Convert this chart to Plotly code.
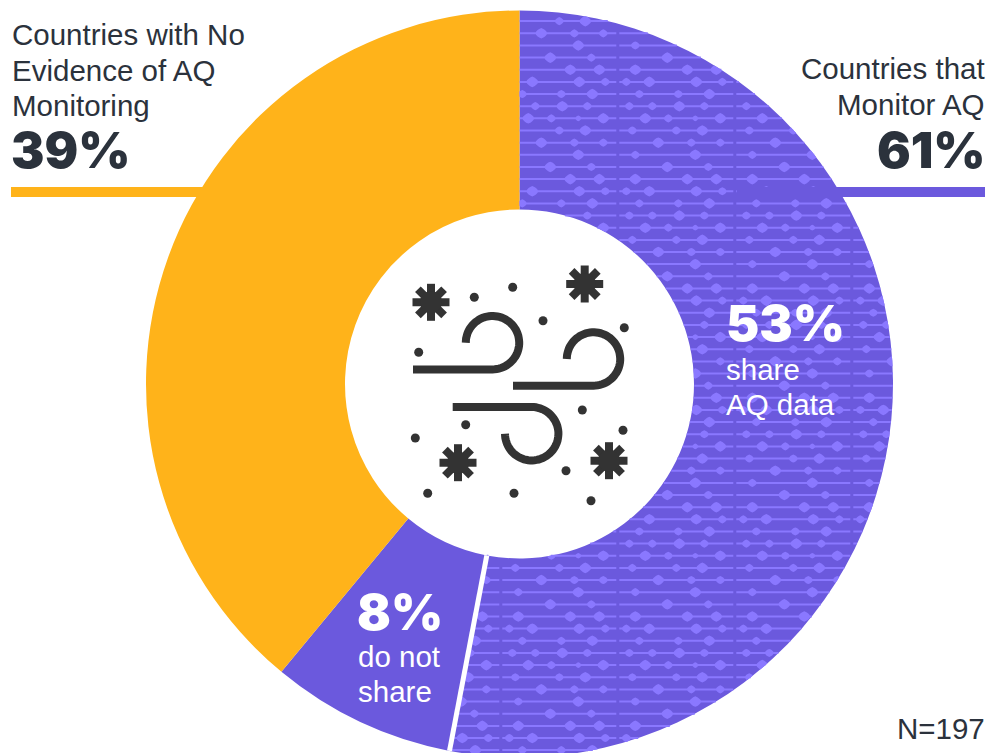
import numpy as np
import plotly.graph_objects as go

# Survey shares, clockwise from twelve o'clock
slice_labels = ["share AQ data", "do not share", "No evidence of AQ monitoring"]
slice_values = [53, 8, 39]
monitor_total = slice_values[0] + slice_values[1]
sample_size = 197

PURPLE = "#6B59DD"
TEXTURE = "#8A78FF"
YELLOW = "#FFB31A"
INK = "#2B323C"
ICON = "#333333"
BODY_FONT = "Liberation Sans"
BIG_FONT = "Inter"

WIDTH, HEIGHT = 987, 768
CX, CY, R_OUT, R_IN = 519.5, 384.0, 373.5, 174.5
END_ANGLE = np.deg2rad(360 * slice_values[0] / sum(slice_values))

# Repeating rows of the woven texture: bead (offset in tile, half width)
L, M, S = 6.2, 4.8, 3.4
TILE_W, ROW_H, LINE_H = 117.0, 12.15, 1.0
TILE_X0, ROW_Y0 = 619.3, 33.3
BEAD_ROUNDNESS = 1.35
tile_rows = [
    [(39, L), (72, M), (101, M)],
    [(16, M), (76, L)],
    [(48, L), (89, M)],
    [(16, L), (68, L), (97, L)],
    [(7, M), (30, L), (77, L), (103, M)],
    [(20, M), (59, M), (90, L)],
    [(10, M), (33, M), (60, L), (85, M)],
    [(26, L), (49, M), (76, S), (101, L)],
    [(13, M), (57, M), (83, L)],
]


def inside(x, y):
    dx, dy = x - CX, y - CY
    r = np.hypot(dx, dy)
    a = np.arctan2(dx, -dy) % (2 * np.pi)
    return (r <= R_OUT) & (r >= R_IN) & (a <= END_ANGLE)


def clamp(x, y):
    """Pull a point back onto the ring sector of the 53% slice."""
    dx, dy = x - CX, y - CY
    r = min(max(np.hypot(dx, dy), R_IN), R_OUT)
    a = np.arctan2(dx, -dy) % (2 * np.pi)
    if a > END_ANGLE:
        a = END_ANGLE if a < END_ANGLE + (2 * np.pi - END_ANGLE) / 2 else 0.0
    return CX + r * np.sin(a), CY - r * np.cos(a)


def poly(points):
    return "M" + "L".join(f"{x:.1f},{y:.1f}" for x, y in points) + "Z"


def bead_outline(bx, y, rad):
    """Rounded diamond, slightly wider than tall."""
    angles = np.linspace(0, 2 * np.pi, 16, endpoint=False)
    p = BEAD_ROUNDNESS
    verts = []
    for t in angles:
        c, s = np.cos(t), np.sin(t)
        k = rad / (abs(c) ** p + abs(s) ** p) ** (1 / p)
        verts.append(clamp(bx + k * c, y + 0.85 * k * s))
    return verts


def texture_path():
    parts = []
    first_col = int(np.floor((CX - 80 - TILE_X0) / TILE_W))
    last_col = int(np.ceil((CX + R_OUT - TILE_X0) / TILE_W))
    for k in range(-3, 62):
        y = ROW_Y0 + k * ROW_H
        beads = tile_rows[k % len(tile_rows)]
        for col in range(first_col, last_col):
            left = TILE_X0 + col * TILE_W
            xs = np.arange(left, left + TILE_W - 2.5, 0.5)
            mask = inside(xs, np.full_like(xs, y))
            if mask.any():
                edges = np.flatnonzero(np.diff(np.r_[0, mask.astype(int), 0]))
                for a, b in zip(edges[::2], edges[1::2]):
                    x0, x1 = xs[a], xs[b - 1]
                    parts.append(poly([(x0, y - LINE_H), (x1, y - LINE_H), (x1, y + LINE_H), (x0, y + LINE_H)]))
            for off, rad in beads:
                bx = left + off
                if inside(np.array(bx), np.array(y)):
                    parts.append(poly(bead_outline(bx, y, rad)))
    return "".join(parts)


# Wind-and-particles emblem in the middle of the ring
flake_centres = [(431, 302.3), (584.7, 284), (458, 462.7), (609, 460.7)]
dot_x = [474.3, 512.7, 543, 624.3, 418.7, 582.3, 465.7, 623, 415.3, 566, 427.7, 514, 591]
dot_y = [297.3, 287.3, 320.7, 327.7, 352.3, 410, 424.7, 430.3, 438, 470.7, 493.3, 493.3, 500.7]
# tail start, arc centre, start and end bearing of the curl (degrees on screen)
gusts = [
    (413, (492.5, 342.7), 90, -180),
    (513, (593.5, 359.0), 90, -180),
    (452.7, (531.7, 433.7), -90, 180),
]
GUST_R = 26.7


def gust_path(tail_x, centre, a0, a1):
    ts = np.deg2rad(np.linspace(a0, a1, 60))
    px = centre[0] + GUST_R * np.cos(ts)
    py = centre[1] + GUST_R * np.sin(ts)
    return f"M{tail_x},{py[0]:.1f}" + "".join(f"L{x:.1f},{y:.1f}" for x, y in zip(px, py))


fig = go.Figure()
fig.add_trace(go.Pie(
    labels=slice_labels,
    values=slice_values,
    sort=False,
    direction="clockwise",
    rotation=0,
    hole=R_IN / R_OUT,
    marker=dict(colors=[PURPLE, PURPLE, YELLOW], line=dict(width=0)),
    textinfo="none",
    hoverinfo="label+percent",
    domain=dict(x=[(CX - R_OUT) / WIDTH, (CX + R_OUT) / WIDTH], y=[0, 1]),
    showlegend=False,
))
fig.add_trace(go.Scatter(
    x=dot_x, y=dot_y, mode="markers",
    marker=dict(size=9, color=ICON, line=dict(width=0)),
    hoverinfo="skip", showlegend=False,
))

shapes = [
    dict(type="path", path=texture_path(), fillcolor=TEXTURE, fillrule="nonzero",
         line=dict(width=0), layer="above"),
    # Leader bars under the headline figures
    dict(type="rect", x0=11, x1=205, y0=187, y1=197, fillcolor=YELLOW, line=dict(width=0)),
    dict(type="rect", x0=737, x1=985, y0=187, y1=197, fillcolor=PURPLE, line=dict(width=0)),
    # Divider between the two purple slices
    dict(type="line",
         x0=CX + R_IN * np.sin(END_ANGLE), y0=CY - R_IN * np.cos(END_ANGLE),
         x1=CX + R_OUT * np.sin(END_ANGLE), y1=CY - R_OUT * np.cos(END_ANGLE),
         line=dict(color="white", width=5)),
]
for tail, centre, a0, a1 in gusts:
    shapes.append(dict(type="path", path=gust_path(tail, centre, a0, a1),
                       line=dict(color=ICON, width=8), fillcolor="rgba(0,0,0,0)"))
for fx, fy in flake_centres:
    for ang in (0, 45, 90, 135):
        t = np.deg2rad(ang)
        ax, ay = 18.5 * np.cos(t), 18.5 * np.sin(t)
        shapes.append(dict(type="line", x0=fx - ax, y0=fy - ay, x1=fx + ax, y1=fy + ay,
                           line=dict(color=ICON, width=8)))
    shapes.append(dict(type="circle", x0=fx - 11, x1=fx + 11, y0=fy - 11, y1=fy + 11,
                       fillcolor=ICON, line=dict(width=0)))
fig.update_layout(shapes=shapes)


def label(text, x, y, anchor="left", size=29.5, color=INK, family=BODY_FONT, weight=400, box=None):
    fig.add_annotation(x=x, y=y, xref="x", yref="y", text=text, showarrow=False,
                       xanchor=anchor, yanchor="middle", align=anchor,
                       borderpad=0, borderwidth=0, height=box,
                       font=dict(size=size, color=color, family=family, weight=weight))


def headline(text, x, y, anchor="left", color=INK):
    label(text, x, y, anchor=anchor, size=50, color=color, family=BIG_FONT, weight=900, box=50)


label("Countries with No", 12, 34)
label("Evidence of AQ", 12, 70)
label("Monitoring", 12, 105)
headline(f"{slice_values[2]}%", 11, 150)
label("Countries that", 985, 68, anchor="right")
label("Monitor AQ", 985, 104, anchor="right")
headline(f"{monitor_total}%", 986, 150, anchor="right")
headline(f"{slice_values[0]}%", 726, 323, color="white")
label("share", 726, 369, color="white")
label("AQ data", 726, 404, color="white")
headline(f"{slice_values[1]}%", 357, 612, color="white")
label("do not", 358, 656, color="white")
label("share", 358, 691, color="white")
label(f"N={sample_size}", 985, 728, anchor="right")

fig.update_layout(
    width=WIDTH, height=HEIGHT,
    margin=dict(l=0, r=0, t=0, b=0),
    paper_bgcolor="white", plot_bgcolor="rgba(0,0,0,0)",
    xaxis=dict(range=[0, WIDTH], visible=False, fixedrange=True),
    yaxis=dict(range=[HEIGHT, 0], visible=False, fixedrange=True),
)

# The ring runs slightly past the bottom of the page; crop the container to the window
crop = ("var g=document.getElementById('{plot_id}');"
        "document.documentElement.style.overflow='hidden';document.body.style.overflow='hidden';"
        "g.parentElement.style.height='753px';g.parentElement.style.overflow='hidden';")
fig.write_html("out.html", post_script=crop, config=dict(displayModeBar=False))
